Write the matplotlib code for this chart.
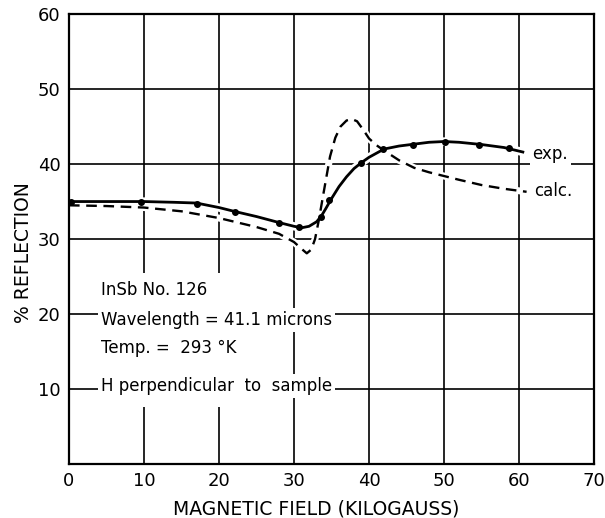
import matplotlib
matplotlib.use("Agg")
import matplotlib.pyplot as plt
from matplotlib.patches import Rectangle

# measured points (experiment)
exp_pts_x = [0.3, 9.6, 17.0, 22.1, 28.0, 30.6, 33.6, 34.7, 38.9, 41.9, 45.8, 50.1, 54.7, 58.7]
exp_pts_y = [34.9, 34.9, 34.7, 33.6, 32.2, 31.6, 33.0, 35.2, 40.2, 42.0, 42.6, 43.0, 42.6, 42.2]

# experimental curve (drawn smooth line)
exp_x = [0, 5, 10, 14, 17, 20, 22, 25, 28, 30, 31, 32, 33, 33.6, 34.2, 35, 36, 37, 38, 39, 40,
         42, 44, 46, 48, 50, 52, 55, 58, 60.5]
exp_y = [35.0, 35.0, 35.0, 34.9, 34.8, 34.2, 33.7, 33.0, 32.2, 31.7, 31.5, 31.7, 32.3, 33.0,
         34.0, 35.4, 37.0, 38.3, 39.4, 40.2, 40.9, 42.0, 42.4, 42.65, 42.9, 43.0, 42.9, 42.6,
         42.2, 41.6]

# calculated curve
calc_x = [0, 5, 10, 15, 20, 25, 28, 30, 31, 31.7, 32.3, 32.8, 33.3, 34, 34.8, 35.5, 36.2,
          37, 37.7, 38.4, 39.2, 40, 41, 42, 44, 46, 48, 50, 52, 55, 58, 61]
calc_y = [34.5, 34.4, 34.2, 33.7, 32.8, 31.6, 30.7, 29.6, 28.7, 28.1, 28.6, 30.0, 32.5, 36.5,
          41.0, 43.5, 45.0, 45.8, 46.0, 45.7, 44.6, 43.4, 42.5, 41.8, 40.5, 39.5, 38.9, 38.4,
          37.9, 37.2, 36.7, 36.3]

xticks = [0, 10, 20, 30, 40, 50, 60, 70]
yticks = [10, 20, 30, 40, 50, 60]
info_lines = ["InSb No. 126", "Wavelength = 41.1 microns", "Temp. =  293 °K",
              "H perpendicular  to  sample"]
info_y = [23.2, 19.2, 15.5, 10.4]

plt.rcParams['font.family'] = ['DejaVu Sans']

fig = plt.figure(figsize=(6.05, 5.18), dpi=100)
ax = fig.add_axes([0.114, 0.104, 0.868, 0.869])
ax.set_xlim(0, 70)
ax.set_ylim(0, 60)
ax.set_xticks(xticks)
ax.set_yticks(yticks)
ax.set_xticklabels([str(t) for t in xticks], fontsize=13)
ax.set_yticklabels([str(t) for t in yticks], fontsize=13)
ax.tick_params(length=0, pad=6)
for s in ax.spines.values():
    s.set_linewidth(1.6)
ax.grid(True, color='black', linewidth=1.2, zorder=0)
ax.set_axisbelow(True)

# white halos (below both curves) to break grid lines near the curves
ax.plot(calc_x, calc_y, color='white', linewidth=5, zorder=2, solid_capstyle='round')
ax.plot(exp_x, exp_y, color='white', linewidth=6, zorder=2, solid_capstyle='round')
# curves
ax.plot(calc_x, calc_y, color='black', linewidth=1.7, linestyle=(0, (4.5, 2.8)), zorder=3)
ax.plot(exp_x, exp_y, color='black', linewidth=2.0, zorder=4)
ax.plot(exp_pts_x, exp_pts_y, 'o', color='black', markersize=4, zorder=5)

# white block behind annotation text
ax.add_patch(Rectangle((4.0, 7.6), 18.5, 17.9, facecolor='white', edgecolor='none', zorder=1))
for t, yy in zip(info_lines, info_y):
    ax.text(4.3, yy, t, fontsize=12, va='center', ha='left', zorder=6,
            bbox=dict(facecolor='white', edgecolor='none', pad=2))

ax.text(61.8, 41.3, "exp.", fontsize=12, va='center', ha='left', zorder=6,
        bbox=dict(facecolor='white', edgecolor='none', pad=2))
ax.text(62.0, 36.4, "calc.", fontsize=12, va='center', ha='left', zorder=6,
        bbox=dict(facecolor='white', edgecolor='none', pad=2))

ax.set_xlabel("MAGNETIC FIELD (KILOGAUSS)", fontsize=13.5)
ax.xaxis.set_label_coords(0.47, -0.078)
ax.set_ylabel("% REFLECTION", fontsize=13.5)
ax.yaxis.set_label_coords(-0.068, 0.47)

fig.savefig("out.png", dpi=100)
